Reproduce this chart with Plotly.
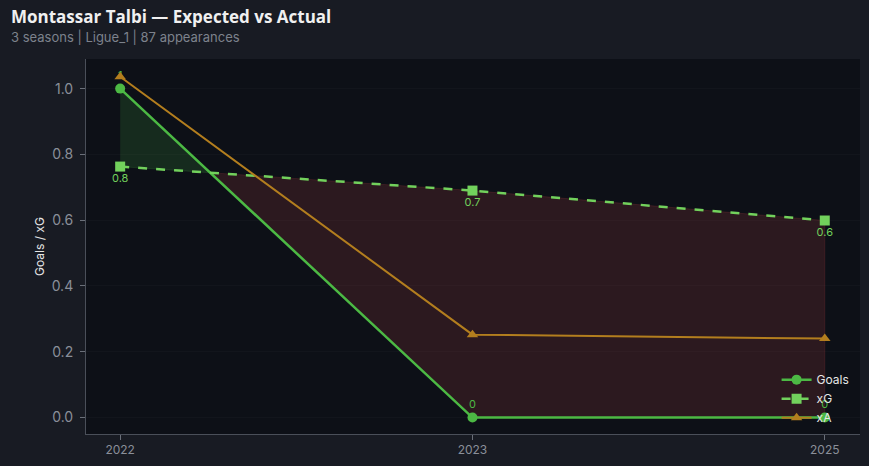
import plotly.graph_objects as go

seasons = ["2022", "2023", "2025"]
goals = [1, 0, 0]
xg = [0.763, 0.69, 0.599]
xa = [1.036, 0.252, 0.24]

PAPER = "#181b23"
PLOT = "#0d1017"
GREEN = "#4cb944"
LIGHT_GREEN = "#72d15c"
GOLD = "#b37e1e"
MUTED = "#8a8f99"

x = list(range(len(seasons)))


def _fill_polygons(xs, top, base):
    """Split the area between goals and xG into over/under segments."""
    pieces = []
    current, sign = [], None
    for i in range(len(xs) - 1):
        d0 = top[i] - base[i]
        d1 = top[i + 1] - base[i + 1]
        if sign is None:
            sign = d0 >= 0
            current = [(xs[i], top[i], base[i])]
        if (d0 >= 0) != (d1 >= 0) and d0 != d1:
            t = d0 / (d0 - d1)
            xc = xs[i] + t * (xs[i + 1] - xs[i])
            yc = top[i] + t * (top[i + 1] - top[i])
            current.append((xc, yc, yc))
            pieces.append((sign, current))
            sign = not sign
            current = [(xc, yc, yc)]
        current.append((xs[i + 1], top[i + 1], base[i + 1]))
    pieces.append((sign, current))
    return pieces


fig = go.Figure()

for positive, pts in _fill_polygons(x, goals, xg):
    px = [p[0] for p in pts] + [p[0] for p in reversed(pts)]
    py = [p[1] for p in pts] + [p[2] for p in reversed(pts)]
    color = "rgba(76,185,68,0.16)" if positive else "rgba(200,70,70,0.17)"
    fig.add_trace(go.Scatter(
        x=px, y=py, fill="toself", fillcolor=color, mode="lines",
        line={"color": color, "width": 1}, hoverinfo="skip", showlegend=False,
    ))

fig.add_trace(go.Scatter(
    x=x, y=goals, name="Goals", mode="lines+markers+text",
    line={"color": GREEN, "width": 2.5},
    marker={"symbol": "circle", "size": 10, "color": GREEN},
    text=[str(g) for g in goals], textposition="top center",
    textfont={"color": GREEN, "size": 11},
))
fig.add_trace(go.Scatter(
    x=x, y=xg, name="xG", mode="lines+markers+text",
    line={"color": LIGHT_GREEN, "width": 2.5, "dash": "dash"},
    marker={"symbol": "square", "size": 10, "color": LIGHT_GREEN},
    text=[f"{v:.1f}" for v in xg], textposition="bottom center",
    textfont={"color": LIGHT_GREEN, "size": 11},
))
fig.add_trace(go.Scatter(
    x=x, y=xa, name="xA", mode="lines+markers",
    line={"color": GOLD, "width": 2},
    marker={"symbol": "triangle-up", "size": 10, "color": GOLD},
))

fig.update_layout(
    width=869, height=466,
    paper_bgcolor=PAPER, plot_bgcolor=PLOT,
    margin={"l": 86, "r": 9, "t": 59, "b": 32},
    font={"family": "Inter, Roboto, sans-serif", "color": MUTED, "size": 13},
    legend={
        "x": 0.993, "y": 0.005, "xanchor": "right", "yanchor": "bottom",
        "bgcolor": "rgba(0,0,0,0)", "font": {"color": "#e6e6e6", "size": 12},
        "tracegroupgap": 0, "itemwidth": 30,
    },
    showlegend=True,
    annotations=[
        {
            "text": "<b>Montassar Talbi — Expected vs Actual</b>",
            "xref": "paper", "yref": "paper", "x": -86 / 774, "y": 1 + 42 / 375,
            "xanchor": "left", "yanchor": "middle", "showarrow": False, "xshift": 9,
            "font": {"family": "Open Sans, sans-serif", "size": 17, "color": "#f0f0f0"},
        },
        {
            "text": "3 seasons | Ligue_1 | 87 appearances",
            "xref": "paper", "yref": "paper", "x": -86 / 774, "y": 1 + 22 / 375,
            "xanchor": "left", "yanchor": "middle", "showarrow": False, "xshift": 9,
            "font": {"family": "Inter, sans-serif", "size": 13, "color": "#7d828c"},
        },
    ],
)
fig.update_xaxes(
    range=[-0.097, 2.1], tickvals=x, ticktext=seasons,
    showgrid=False, zeroline=False, showline=True, linecolor="#4a4f59",
    ticks="outside", ticklen=5, tickcolor="#6a6f79", tickfont={"color": MUTED, "size": 12},
)
fig.update_yaxes(
    range=[-0.05, 1.09], dtick=0.2, tickformat=".1f",
    title={"text": "Goals / xG", "font": {"color": "#e6e6e6", "size": 12}, "standoff": 4},
    showgrid=True, gridcolor="rgba(255,255,255,0.022)", zeroline=False,
    showline=True, linecolor="#4a4f59", ticklabelstandoff=4,
    ticks="outside", ticklen=5, tickcolor="#6a6f79", tickfont={"color": MUTED, "size": 14},
)

fig.write_html(
    "out.html",
    config={"displayModeBar": False},
    post_script="document.body.style.margin='0';",
)
